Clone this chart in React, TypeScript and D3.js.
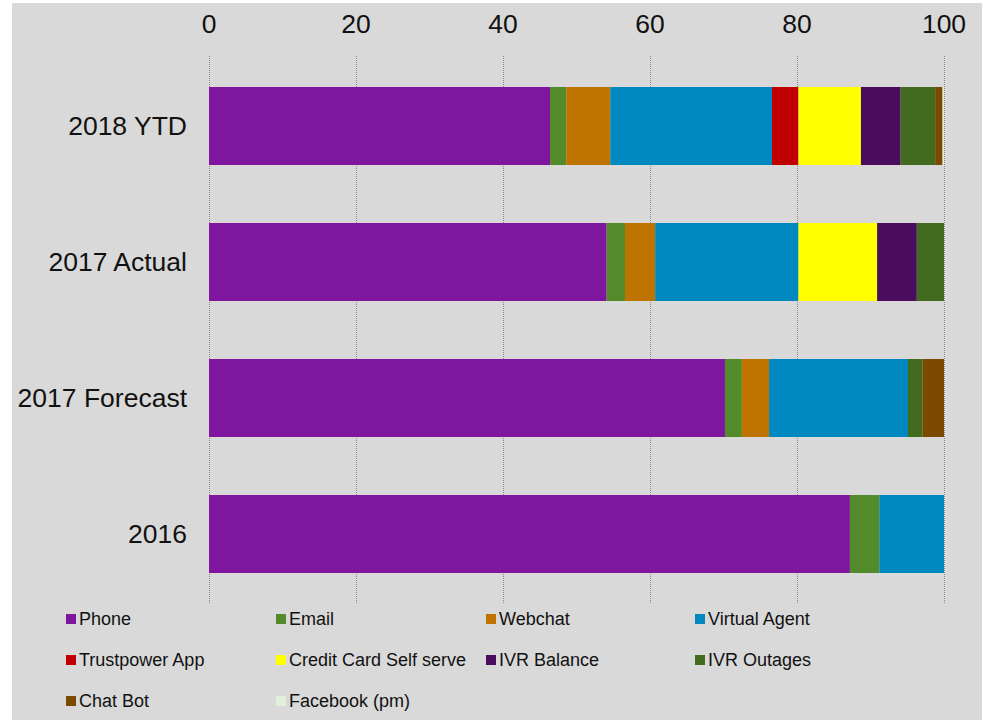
import React, { useRef, useEffect } from 'react';
import * as d3 from 'd3';

const categories = ['2018 YTD', '2017 Actual', '2017 Forecast', '2016'];
const seriesNames = [
  'Phone',
  'Email',
  'Webchat',
  'Virtual Agent',
  'Trustpower App',
  'Credit Card Self serve',
  'IVR Balance',
  'IVR Outages',
  'Chat Bot',
  'Facebook (pm)',
];
const seriesColors = [
  '#7f169f',
  '#538b2a',
  '#c07400',
  '#0088c0',
  '#c00000',
  '#ffff00',
  '#4a0c5c',
  '#426b1f',
  '#7b4a00',
  '#e2f0d9',
];
// one row per category, one value per series (percent)
const phone = [46.4, 54.1, 70.2, 87.2];
const email = [2.2, 2.5, 2.3, 4.0];
const webchat = [6.0, 4.1, 3.7, 0];
const virtualAgent = [22.0, 19.5, 18.9, 8.8];
const trustpowerApp = [3.6, 0, 0, 0];
const creditCard = [8.5, 10.7, 0, 0];
const ivrBalance = [5.4, 5.4, 0, 0];
const ivrOutages = [4.7, 3.7, 2.0, 0];
const chatBot = [1.0, 0, 2.9, 0];
const facebook = [0.2, 0, 0, 0];
const tickValues = [0, 20, 40, 60, 80, 100];

const seriesValues = [
  phone, email, webchat, virtualAgent, trustpowerApp,
  creditCard, ivrBalance, ivrOutages, chatBot, facebook,
];

export default function App() {
  const ref = useRef<SVGSVGElement>(null);

  useEffect(() => {
    const svg = d3.select(ref.current);
    svg.selectAll('*').remove();

    const width = 988;
    const height = 720;
    const font = 'Liberation Sans, Arial, sans-serif';

    svg.attr('width', width).attr('height', height);

    svg.append('rect')
      .attr('x', 12).attr('y', 3)
      .attr('width', 970).attr('height', 717)
      .attr('fill', '#d9d9d9');

    const x = d3.scaleLinear().domain([0, 100]).range([209, 944]);
    const y = d3.scaleBand()
      .domain(categories)
      .range([58, 602])
      .paddingInner(0.4265)
      .paddingOuter(0.2133);

    // gridlines
    svg.append('g')
      .selectAll('line')
      .data(tickValues)
      .join('line')
      .attr('x1', d => Math.round(x(d)) + 0.5)
      .attr('x2', d => Math.round(x(d)) + 0.5)
      .attr('y1', 56)
      .attr('y2', 604)
      .attr('stroke', '#8a8a8a')
      .attr('stroke-dasharray', '1,1');

    // tick labels
    svg.append('g')
      .selectAll('text')
      .data(tickValues)
      .join('text')
      .attr('x', d => x(d))
      .attr('y', 33)
      .attr('text-anchor', 'middle')
      .attr('font-family', font)
      .attr('font-size', 26.5)
      .attr('fill', '#111')
      .text(d => d);

    // stacked bars
    const rows = categories.map((c, i) => {
      const r: any = { category: c };
      seriesNames.forEach((s, j) => { r[s] = seriesValues[j][i]; });
      return r;
    });
    const stacked = d3.stack().keys(seriesNames)(rows);

    svg.append('g')
      .selectAll('g')
      .data(stacked)
      .join('g')
      .attr('fill', (d, i) => seriesColors[i])
      .selectAll('rect')
      .data(d => d)
      .join('rect')
      .attr('x', d => x(d[0]))
      .attr('y', d => y(d.data.category as string)!)
      .attr('width', d => Math.max(0, x(d[1]) - x(d[0])))
      .attr('height', y.bandwidth());

    // category labels
    svg.append('g')
      .selectAll('text')
      .data(categories)
      .join('text')
      .attr('x', 187)
      .attr('y', d => y(d)! + y.bandwidth() / 2)
      .attr('dy', '0.35em')
      .attr('text-anchor', 'end')
      .attr('font-family', font)
      .attr('font-size', 26.5)
      .attr('fill', '#111')
      .text(d => d);

    // legend
    const colX = [66, 276, 486, 695];
    const rowY = [619, 660, 701];
    const legend = svg.append('g')
      .selectAll('g')
      .data(seriesNames)
      .join('g')
      .attr('transform', (d, i) => `translate(${colX[i % 4]},${rowY[Math.floor(i / 4)]})`);

    legend.append('rect')
      .attr('x', 0).attr('y', -5)
      .attr('width', 10).attr('height', 10)
      .attr('fill', (d, i) => seriesColors[i]);

    legend.append('text')
      .attr('x', 13)
      .attr('y', 0)
      .attr('dy', '0.35em')
      .attr('font-family', font)
      .attr('font-size', 18)
      .attr('fill', '#111')
      .text(d => d);
  }, []);

  return (
    <svg
      ref={ref}
      style={{ position: 'absolute', left: 0, top: 0, display: 'block' }}
    />
  );
}
